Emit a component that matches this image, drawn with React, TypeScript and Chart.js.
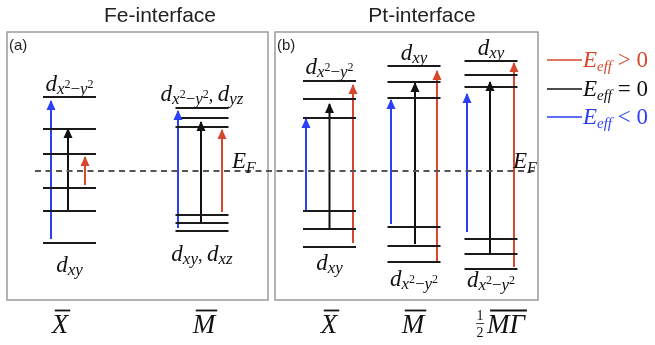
import React, { useEffect, useRef } from "react";
import { Chart, registerables } from "chart.js";

Chart.register(...registerables);

// ---------------- data ----------------
const panelTitles = ["Fe-interface", "Pt-interface"];
const panelTags = ["(a)", "(b)"];
const kPointLabels = ["X", "M", "X", "M", "MΓ"];
const kPointPrefix = ["", "", "", "", "1/2"];

// energy levels (arbitrary units, E_F = 0)
const levelsFeX = [7.4, 4.2, 1.7, -1.7, -4.0, -7.2];
const levelsFeM = [6.3, 5.3, 4.4, -4.4, -5.2, -6.0];
const levelsPtX = [9.0, 7.2, 5.3, -4.0, -5.8, -7.6];
const levelsPtM = [10.5, 8.9, 7.3, -5.6, -7.5, -9.1];
const levelsPtMG = [11.0, 9.6, 8.4, -6.8, -8.3, -9.8];
const levelSets = [levelsFeX, levelsFeM, levelsPtX, levelsPtM, levelsPtMG];

// transitions [from, to] per column
const arrowsNeg = [[-6.8, 7.0], [-5.7, 6.0], [-4.0, 5.2], [-5.3, 7.1], [-6.1, 7.7]];
const arrowsZero = [[-4.0, 4.2], [-5.1, 4.9], [-5.8, 6.7], [-7.3, 8.8], [-8.2, 8.9]];
const arrowsPos = [[-1.4, 1.4], [-4.1, 4.1], [-7.2, 8.6], [-9.0, 10.0], [-9.6, 10.8]];

const topOrbitals = ["x2y2", "x2y2,yz", "x2y2", "xy", "xy"];
const bottomOrbitals = ["xy", "xy,xz", "xy", "x2y2", "x2y2"];

const legendSigns = [">", "=", "<"];

// ---------------- layout / style ----------------
const W = 655;
const H = 345;
const E_MIN = -17.4;
const E_MAX = 17.1;
const colCenter = [69.5, 202, 329.5, 414, 491];
const halfWidth = 26.5;
const dxNeg = [-18.5, -24, -23.5, -23, -24];
const dxZero = [-1.5, -1, 0, 1, -1];
const dxPos = [15.5, 20, 23.5, 23, 23];
const topGap = [6, 7, 7, 6, 6];
const bottomGap = [29, 30, 23, 24, 18];
const kCenter = [60, 204, 329, 413, 506];
const boxes = [
  { x0: 7, x1: 268, e0: 13.9, e1: -12.9 },
  { x0: 275, x1: 538, e0: 13.9, e1: -12.9 },
];
const titleCenter = [160, 422];
const efLabelX = [232, 513];
const efLine = [35, 535];

const BLUE = "#2b3ff6";
const RED = "#d6472c";
const BLACK = "#111111";
const LEVEL = "#1a1a1a";
const arrowColors = [BLUE, BLACK, RED];
const SERIF = '"Liberation Serif", "DejaVu Serif", serif';
const SANS = '"Liberation Sans", Arial, sans-serif';

type Run = { t: string; size: number; dy: number; italic?: boolean };

const MS = 23, SS = 17, PS = 12;

function orbRuns(key: string): Run[] {
  const out: Run[] = [];
  key.split(",").forEach((k, i) => {
    if (i > 0) out.push({ t: ", ", size: 18, dy: 0 });
    out.push({ t: "d", size: MS, dy: 0, italic: true });
    if (k === "x2y2") {
      out.push({ t: "x", size: SS, dy: 3, italic: true });
      out.push({ t: "2", size: PS, dy: -3 });
      out.push({ t: "−", size: SS, dy: 3 });
      out.push({ t: "y", size: SS, dy: 3, italic: true });
      out.push({ t: "2", size: PS, dy: -3 });
    } else {
      out.push({ t: k, size: SS, dy: 3, italic: true });
    }
  });
  return out;
}

function fontOf(r: Run, fam = SERIF) {
  return `${r.italic ? "italic " : ""}${r.size}px ${fam}`;
}

function richWidth(ctx: CanvasRenderingContext2D, runs: Run[]) {
  let w = 0;
  for (const r of runs) {
    ctx.font = fontOf(r);
    w += ctx.measureText(r.t).width;
  }
  return w;
}

function drawRich(
  ctx: CanvasRenderingContext2D,
  runs: Run[],
  x: number,
  y: number,
  align: "left" | "center",
  color: string
) {
  const w = richWidth(ctx, runs);
  let cx = align === "center" ? x - w / 2 : x;
  ctx.fillStyle = color;
  ctx.textBaseline = "alphabetic";
  ctx.textAlign = "left";
  for (const r of runs) {
    ctx.font = fontOf(r);
    ctx.fillText(r.t, cx, y + r.dy);
    cx += ctx.measureText(r.t).width;
  }
  return w;
}

const decorPlugin = {
  id: "decor",
  beforeDatasetsDraw(chart: any) {
    const { ctx, scales } = chart;
    const xs = scales.x, ys = scales.y;
    ctx.save();
    ctx.strokeStyle = "#9a9a9a";
    ctx.lineWidth = 1.5;
    for (const b of boxes) {
      const x0 = xs.getPixelForValue(b.x0), x1 = xs.getPixelForValue(b.x1);
      const y0 = ys.getPixelForValue(b.e0), y1 = ys.getPixelForValue(b.e1);
      ctx.strokeRect(x0, y0, x1 - x0, y1 - y0);
    }
    ctx.restore();
  },
  afterDatasetsDraw(chart: any) {
    const { ctx, scales } = chart;
    const xs = scales.x, ys = scales.y;
    ctx.save();
    // arrow heads
    chart.data.datasets.forEach((ds: any, i: number) => {
      if (!ds.arrowHead) return;
      const meta = chart.getDatasetMeta(i);
      const p = meta.data[meta.data.length - 1];
      ctx.fillStyle = ds.borderColor;
      ctx.beginPath();
      ctx.moveTo(p.x, p.y - 1);
      ctx.lineTo(p.x - 4.5, p.y + 9);
      ctx.lineTo(p.x + 4.5, p.y + 9);
      ctx.closePath();
      ctx.fill();
    });

    // panel titles and tags
    ctx.fillStyle = "#222";
    ctx.textBaseline = "alphabetic";
    panelTitles.forEach((t, i) => {
      ctx.font = `21px ${SANS}`;
      ctx.textAlign = "center";
      ctx.fillText(t, xs.getPixelForValue(titleCenter[i]), 22);
      ctx.font = `15px ${SANS}`;
      ctx.textAlign = "left";
      ctx.fillText(panelTags[i], xs.getPixelForValue(boxes[i].x0) + 2, 50);
    });

    // E_F labels
    const yEF = ys.getPixelForValue(0);
    efLabelX.forEach((x) => {
      drawRich(
        ctx,
        [
          { t: "E", size: 23, dy: -3, italic: true },
          { t: "F", size: 16, dy: 2, italic: true },
        ],
        xs.getPixelForValue(x),
        yEF,
        "left",
        BLACK
      );
    });

    // orbital labels
    levelSets.forEach((lv, i) => {
      const cx = xs.getPixelForValue(colCenter[i]);
      const top = ys.getPixelForValue(Math.max(...lv)) - topGap[i];
      const bot = ys.getPixelForValue(Math.min(...lv)) + bottomGap[i];
      drawRich(ctx, orbRuns(topOrbitals[i]), cx, top, "center", BLACK);
      drawRich(ctx, orbRuns(bottomOrbitals[i]), cx, bot, "center", BLACK);
    });

    // k-point labels
    const kBase = 333;
    kPointLabels.forEach((lab, i) => {
      const cx = xs.getPixelForValue(kCenter[i]);
      ctx.font = `italic 27px ${SERIF}`;
      const w = ctx.measureText(lab).width;
      ctx.fillStyle = BLACK;
      ctx.textAlign = "left";
      ctx.fillText(lab, cx - w / 2, kBase);
      ctx.strokeStyle = BLACK;
      ctx.lineWidth = 1.8;
      ctx.beginPath();
      ctx.moveTo(cx - w / 2 + 3, 310.5);
      ctx.lineTo(cx + w / 2 + 2, 310.5);
      ctx.stroke();
      if (kPointPrefix[i]) {
        const [n, d] = kPointPrefix[i].split("/");
        const fx = cx - w / 2 - 7;
        ctx.font = `14px ${SERIF}`;
        ctx.textAlign = "center";
        ctx.fillText(n, fx, 320);
        ctx.fillText(d, fx, 337);
        ctx.lineWidth = 0.8;
        ctx.beginPath();
        ctx.moveTo(fx - 4, 323.5);
        ctx.lineTo(fx + 4, 323.5);
        ctx.stroke();
      }
    });

    // legend
    const legY = [60, 89, 117];
    const legColors = [RED, BLACK, BLUE];
    legendSigns.forEach((s, i) => {
      ctx.strokeStyle = legColors[i];
      ctx.lineWidth = 1.5;
      ctx.beginPath();
      ctx.moveTo(547, legY[i]);
      ctx.lineTo(582, legY[i]);
      ctx.stroke();
      drawRich(
        ctx,
        [
          { t: "E", size: 23, dy: 0, italic: true },
          { t: "eff", size: 15, dy: 4, italic: true },
          { t: ` ${s} 0`, size: 23, dy: 0 },
        ],
        583,
        legY[i] + 7,
        "left",
        legColors[i]
      );
    });
    ctx.restore();
  },
};

export default function App() {
  const ref = useRef<HTMLCanvasElement | null>(null);

  useEffect(() => {
    if (!ref.current) return;
    const datasets: any[] = [];
    // Fermi level
    datasets.push({
      data: [
        { x: efLine[0], y: 0 },
        { x: efLine[1], y: 0 },
      ],
      borderColor: "#555555",
      borderWidth: 2,
      borderDash: [6, 4.5],
      pointRadius: 0,
      showLine: true,
    });
    // levels
    levelSets.forEach((lv, i) => {
      lv.forEach((e) => {
        datasets.push({
          data: [
            { x: colCenter[i] - halfWidth, y: e },
            { x: colCenter[i] + halfWidth, y: e },
          ],
          borderColor: LEVEL,
          borderWidth: 2,
          pointRadius: 0,
          showLine: true,
        });
      });
    });
    // arrows
    const arrowGroups = [arrowsNeg, arrowsZero, arrowsPos];
    const dxs = [dxNeg, dxZero, dxPos];
    arrowGroups.forEach((grp, g) => {
      grp.forEach(([from, to], i) => {
        const x = colCenter[i] + dxs[g][i];
        datasets.push({
          data: [
            { x, y: from },
            { x, y: to },
          ],
          borderColor: arrowColors[g],
          borderWidth: 2,
          pointRadius: 0,
          showLine: true,
          arrowHead: true,
        });
      });
    });

    const chart = new Chart(ref.current, {
      type: "scatter",
      data: { datasets },
      options: {
        animation: false,
        responsive: false,
        devicePixelRatio: 1,
        layout: { padding: 0 },
        events: [],
        plugins: { legend: { display: false }, tooltip: { enabled: false } },
        scales: {
          x: { type: "linear", min: 0, max: W, display: false },
          y: { type: "linear", min: E_MIN, max: E_MAX, display: false },
        },
      },
      plugins: [decorPlugin],
    });
    return () => chart.destroy();
  }, []);

  return (
    <div style={{ position: "fixed", left: 0, top: 0, width: W, height: H, background: "#fff" }}>
      <canvas ref={ref} width={W} height={H} style={{ width: W, height: H }} />
    </div>
  );
}
